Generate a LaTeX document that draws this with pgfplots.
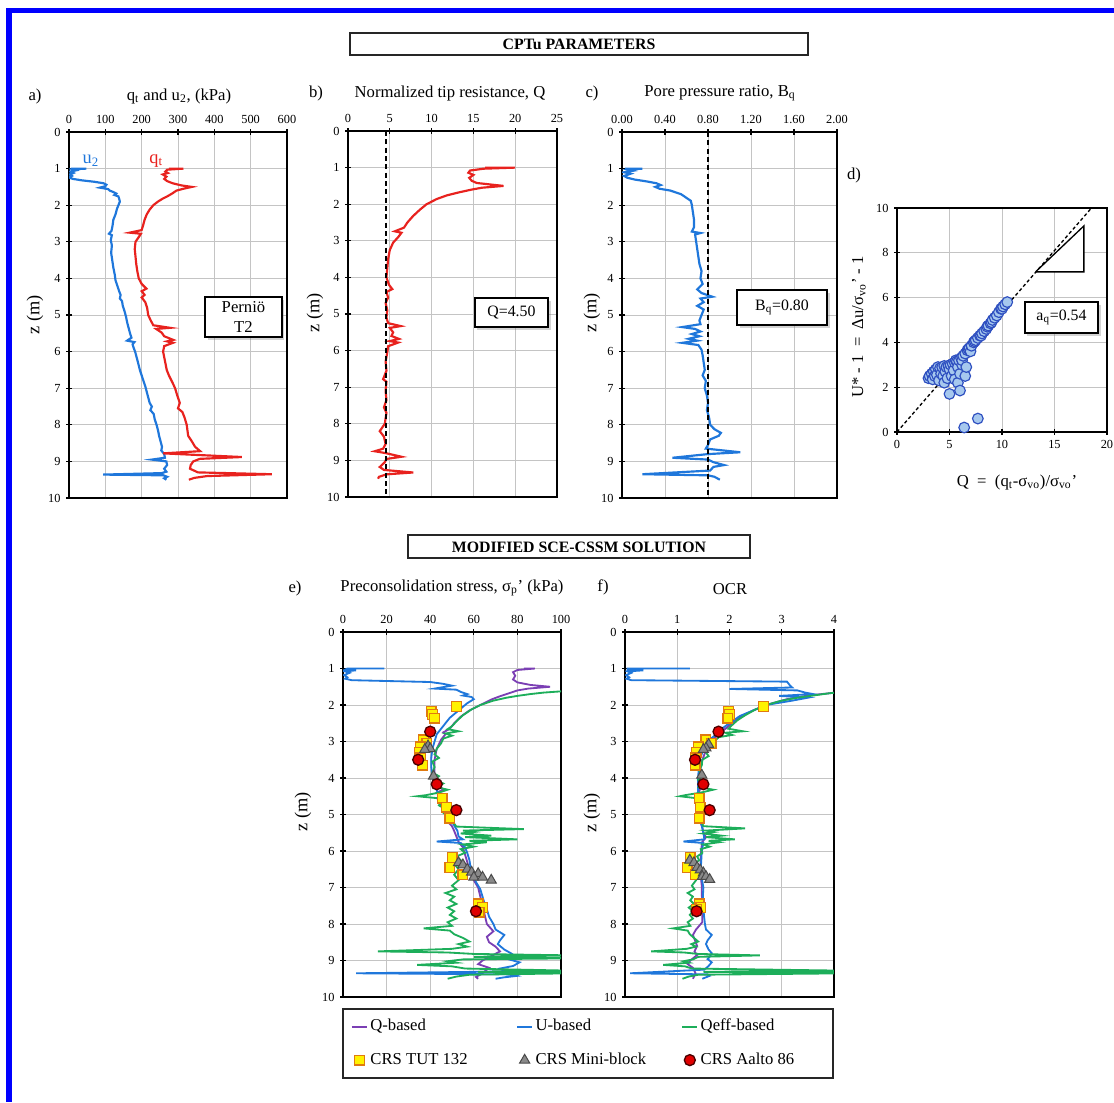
\documentclass[border=0pt]{standalone}
\usepackage{fontspec}
\setmainfont{Liberation Serif}
\usepackage{pgfplots}
\pgfplotsset{compat=1.18}
\usetikzlibrary{shadows}

\definecolor{frameblue}{HTML}{0000FF}
\definecolor{cRed}{HTML}{E8221E}
\definecolor{cBlue}{HTML}{1F77DB}
\definecolor{cPurp}{HTML}{7B3FB4}
\definecolor{cGreen}{HTML}{1DAE5A}
\definecolor{cGrid}{HTML}{C4C4C4}
\definecolor{cYellow}{HTML}{FFF200}
\definecolor{cOrange}{HTML}{E07A10}
\definecolor{cTri}{HTML}{8A8A8A}
\definecolor{cTriEdge}{HTML}{4A4A4A}
\definecolor{cDot}{HTML}{E00000}
\definecolor{cDotEdge}{HTML}{4A0000}
\definecolor{cScatFill}{HTML}{A6C8EE}
\definecolor{cScatEdge}{HTML}{2E4FC0}

\newcommand\tickfont{\fontsize{7.4}{8}\selectfont}
\newcommand\titlefont{\fontsize{10}{12}\selectfont}
\newcommand\zfont{\fontsize{11}{12}\selectfont}

\tikzset{
  box/.style={draw=black, line width=1pt, fill=white,
    drop shadow={shadow xshift=1.5pt, shadow yshift=-1.5pt, opacity=0.35}},
}
\pgfplotsset{
  prof/.style={
    scale only axis, anchor=north west,
    y dir=reverse, ymin=0, ymax=10, ytick={0,1,...,10},
    xtick pos=right, xticklabel pos=right, ytick pos=left,
    tick align=center, major tick length=3.2pt,
    every tick/.style={black, line width=0.8pt},
    grid=major, grid style={cGrid, line width=0.5pt},
    axis line style={black, line width=1pt},
    tick label style={font=\tickfont},
    /pgf/number format/assume math mode=true,
  },
  tut/.style={only marks, mark=square*, mark size=2.9pt,
    mark options={fill=cYellow, draw=cOrange, line width=0.8pt}},
  mini/.style={only marks, mark=triangle*, mark size=3.5pt,
    mark options={fill=cTri, draw=cTriEdge, line width=0.6pt}},
  aalto/.style={only marks, mark=*, mark size=3.3pt,
    mark options={fill=cDot, draw=cDotEdge, line width=0.8pt}},
}

\begin{document}
% one unit = 0.6pt; y runs downward from the top edge
\begin{tikzpicture}[x=0.6pt,y=-0.6pt]
\path[use as bounding box] (0,0) rectangle (1114,1102);
% page frame
\fill[frameblue] (6,8) rectangle (1114,13);
\fill[frameblue] (6,8) rectangle (12,1102);

% section headings
\draw[line width=1.3pt, draw=black!85] (350,33) rectangle (808,55);
\node[font=\bfseries\fontsize{9.5}{11}\selectfont] at (579,44.5) {CPTu PARAMETERS};
\draw[line width=1.3pt, draw=black!85] (408,535) rectangle (750,558);
\node[font=\bfseries\fontsize{9.5}{11}\selectfont] at (579,547) {MODIFIED SCE-CSSM SOLUTION};

% panel letters and titles
\node[font=\titlefont] at (35,96) {a)};
\node[font=\titlefont] at (179,96) {q\textsubscript{t} and u\textsubscript{2}, (kPa)};
\node[font=\titlefont] at (316,93) {b)};
\node[font=\titlefont] at (450,93) {Normalized tip resistance, Q};
\node[font=\titlefont] at (592,93) {c)};
\node[font=\titlefont] at (720,93) {Pore pressure ratio, B\textsubscript{q}};
\node[font=\titlefont] at (854,175) {d)};
\node[font=\titlefont] at (295,588) {e)};
\node[font=\titlefont] at (452,588) {Preconsolidation stress, σ\textsubscript{p}' (kPa)};
\node[font=\titlefont] at (603,587) {f)};
\node[font=\titlefont] at (730,589) {OCR};

% depth labels
\foreach \xx/\yy in {35/315, 315/313, 592/313, 303/812, 592/813}
  \node[font=\zfont, rotate=90] at (\xx,\yy) {z (m)};

% ---------------- a) q_t and u_2 ----------------
\begin{axis}[prof, at={(41.4pt,-79.2pt)}, width=130.8pt, height=219.6pt,
  xmin=0, xmax=600, xtick={0,100,...,600}]
\addplot[cBlue, line width=1.3pt] coordinates {
(5,1.00) (48,1.00) (10,1.02) (18,1.05) (3,1.08) (12,1.12) (2,1.16) (8,1.20)
(0,1.24) (10,1.28) (35,1.32) (70,1.36) (95,1.40) (103,1.44) (100,1.48) (85,1.52)
(108,1.56) (112,1.60) (122,1.64) (130,1.68) (125,1.72) (136,1.76) (138,1.82)
(140,1.90) (136,2.00) (132,2.10) (128,2.25) (122,2.40) (120,2.55) (117,2.70)
(110,2.78) (118,2.82) (115,2.95) (118,3.10) (116,3.30) (119,3.50) (122,3.70)
(126,3.90) (128,4.05) (133,4.20) (138,4.35) (142,4.45) (140,4.55) (146,4.62)
(148,4.75) (153,4.90) (157,5.05) (160,5.20) (164,5.35) (168,5.50) (172,5.62)
(160,5.70) (180,5.74) (175,5.80) (178,5.90) (182,6.00) (186,6.15) (190,6.30)
(195,6.50) (200,6.65) (205,6.80) (210,6.95) (214,7.10) (218,7.25) (222,7.40)
(228,7.50) (224,7.60) (233,7.70) (236,7.85) (241,8.00) (245,8.15) (248,8.30)
(252,8.45) (256,8.60) (254,8.70) (262,8.80) (264,8.90) (228,8.95) (268,9.00)
(270,9.10) (262,9.20) (268,9.28) (255,9.32) (94,9.36) (260,9.38) (270,9.42)
(262,9.46) (268,9.50)};
\addplot[cRed, line width=1.3pt] coordinates {
(275,1.00) (315,1.00) (270,1.03) (265,1.08) (272,1.12) (258,1.16) (268,1.22)
(262,1.28) (270,1.34) (285,1.40) (310,1.46) (338,1.50) (315,1.55) (296,1.60)
(284,1.68) (272,1.75) (258,1.82) (245,1.90) (232,2.00) (222,2.12) (214,2.25)
(208,2.40) (204,2.55) (200,2.68) (167,2.75) (198,2.78) (190,2.90) (183,3.00)
(181,3.20) (183,3.40) (185,3.60) (188,3.80) (192,4.00) (200,4.15) (213,4.28)
(200,4.35) (208,4.45) (200,4.52) (210,4.65) (215,4.80) (218,5.00) (225,5.15)
(232,5.28) (278,5.35) (240,5.38) (255,5.48) (262,5.58) (287,5.68) (270,5.72)
(286,5.76) (262,5.85) (259,6.00) (262,6.15) (265,6.30) (269,6.50) (275,6.65)
(285,6.85) (292,7.00) (298,7.20) (305,7.40) (300,7.55) (312,7.65) (318,7.80)
(324,8.00) (326,8.15) (328,8.30) (338,8.45) (347,8.60) (361,8.72) (259,8.78)
(345,8.82) (476,8.88) (360,8.93) (342,9.00) (335,9.10) (333,9.20) (355,9.30)
(558,9.35) (380,9.40) (345,9.45) (330,9.50)};
\node[font=\fontsize{11}{12}\selectfont, text=cBlue] at (axis cs:60,0.78) {u\textsubscript{2}};
\node[font=\fontsize{11}{12}\selectfont, text=cRed] at (axis cs:240,0.78) {q\textsubscript{t}};
\end{axis}
\node[box, font=\titlefont, align=center, minimum width=46pt, minimum height=24pt,
  inner sep=1pt] at (243.5,317) {Perniö\\T2};

% ---------------- b) Q ----------------
\begin{axis}[prof, at={(208.8pt,-78.6pt)}, width=125.4pt, height=219.6pt,
  xmin=0, xmax=25, xtick={0,5,...,25}]
\addplot[cRed, line width=1.3pt] coordinates {
(16.4,1.00) (20.0,1.00) (16.2,1.03) (14.6,1.08) (14.4,1.14) (15.0,1.20)
(14.5,1.28) (14.8,1.36) (15.4,1.42) (18.6,1.50) (16.0,1.55) (14.8,1.60)
(13.2,1.68) (11.8,1.76) (10.6,1.86) (9.4,2.00) (8.6,2.15) (7.8,2.32)
(7.1,2.50) (6.7,2.64) (5.6,2.74) (6.4,2.78) (6.0,2.90) (5.4,3.05) (5.0,3.25)
(4.8,3.50) (4.7,3.75) (4.6,4.00) (4.9,4.20) (5.3,4.32) (4.6,4.40) (4.8,4.55)
(4.5,4.70) (4.7,4.90) (4.6,5.10) (4.8,5.25) (6.3,5.33) (5.0,5.38) (5.4,5.50)
(5.2,5.60) (6.1,5.68) (5.0,5.74) (6.0,5.78) (4.8,5.88) (4.7,6.05) (4.5,6.30)
(4.6,6.55) (4.2,6.78) (4.6,6.85) (4.5,7.10) (4.6,7.35) (4.3,7.55) (4.6,7.70)
(4.4,8.00) (3.8,8.20) (4.3,8.35) (4.5,8.55) (4.2,8.68) (3.2,8.75) (4.5,8.80)
(6.4,8.90) (4.6,8.96) (4.4,9.05) (3.8,9.18) (4.3,9.26) (7.8,9.33) (4.6,9.38)
(3.7,9.45) (3.6,9.50)};
\addplot[black, line width=1.2pt, dash pattern=on 3pt off 2pt] coordinates {(4.5,0) (4.5,10)};
\end{axis}
\node[box, font=\fontsize{9.5}{11}\selectfont, minimum width=44pt, minimum height=17.4pt,
  inner sep=1pt] at (511.5,312.5) {Q=4.50};

% ---------------- c) B_q ----------------
\begin{axis}[prof, at={(373.2pt,-79.2pt)}, width=129pt, height=219.6pt,
  xmin=0, xmax=2, xtick={0,0.4,0.8,1.2,1.6,2},
  xticklabels={0.00,0.40,0.80,1.20,1.60,2.00}]
\addplot[cBlue, line width=1.3pt] coordinates {
(0.03,1.00) (0.19,1.00) (0.06,1.03) (0.10,1.06) (0.02,1.10) (0.08,1.14)
(0.02,1.20) (0.05,1.25) (0.12,1.30) (0.23,1.35) (0.32,1.40) (0.36,1.45)
(0.31,1.50) (0.35,1.55) (0.45,1.60) (0.50,1.65) (0.55,1.70) (0.58,1.76)
(0.60,1.80) (0.64,1.88) (0.65,2.00) (0.66,2.20) (0.67,2.40) (0.67,2.60)
(0.65,2.72) (0.73,2.76) (0.68,2.80) (0.69,3.00) (0.70,3.20) (0.71,3.40)
(0.72,3.60) (0.74,3.80) (0.73,4.00) (0.75,4.15) (0.70,4.30) (0.74,4.40)
(0.84,4.50) (0.73,4.55) (0.76,4.65) (0.70,4.75) (0.76,4.85) (0.74,5.00)
(0.72,5.15) (0.73,5.25) (0.56,5.33) (0.68,5.38) (0.73,5.45) (0.65,5.52)
(0.72,5.58) (0.62,5.65) (0.70,5.70) (0.56,5.76) (0.71,5.82) (0.74,5.95)
(0.75,6.10) (0.76,6.30) (0.77,6.50) (0.75,6.65) (0.78,6.80) (0.77,7.00)
(0.79,7.20) (0.80,7.40) (0.79,7.60) (0.81,7.80) (0.82,8.00) (0.86,8.12)
(0.92,8.22) (0.90,8.30) (0.82,8.40) (0.80,8.55) (0.78,8.65) (1.10,8.75)
(0.80,8.80) (0.47,8.90) (0.80,8.95) (0.85,9.02) (0.95,9.10) (0.85,9.15)
(0.82,9.25) (0.19,9.35) (0.80,9.38) (0.86,9.42) (0.91,9.50)};
\addplot[black, line width=1.2pt, dash pattern=on 3pt off 2pt] coordinates {(0.8,0) (0.8,10)};
\end{axis}
\node[box, font=\fontsize{9.5}{11}\selectfont, minimum width=54pt, minimum height=21pt,
  inner sep=1pt] at (782,307.5) {B\textsubscript{q}=0.80};

% ---------------- d) U*-1 vs Q ----------------
\begin{axis}[scale only axis, anchor=north west, at={(538.2pt,-124.8pt)},
  width=126pt, height=134.4pt,
  xmin=0, xmax=20, ymin=0, ymax=10,
  xtick={0,5,...,20}, ytick={0,2,...,10},
  xtick pos=left, ytick pos=left,
  tick align=center, major tick length=3.2pt,
  every tick/.style={black, line width=0.8pt},
  grid=major, grid style={cGrid, line width=0.5pt},
  axis line style={black, line width=1pt},
  tick label style={font=\tickfont},
  /pgf/number format/assume math mode=true]
\addplot[only marks, mark=*, mark size=3.2pt,
  mark options={fill=cScatFill, draw=cScatEdge, line width=0.7pt}] coordinates {
(3.0,2.4) (3.1,2.5) (3.3,2.6) (3.4,2.35) (3.5,2.7) (3.6,2.5) (3.7,2.8)
(3.8,2.55) (3.9,2.9) (4.0,2.3) (4.1,2.85) (4.2,2.6) (4.3,2.9) (4.4,2.5)
(4.5,2.95) (4.5,2.2) (4.6,2.7) (4.7,2.9) (4.8,2.4) (4.9,2.95) (5.0,2.8)
(5.0,1.7) (5.1,3.0) (5.2,2.5) (5.3,3.05) (5.4,2.75) (5.5,3.1) (5.5,2.35)
(5.6,3.2) (5.7,3.15) (5.8,2.9) (5.8,2.2) (5.9,3.2) (6.0,2.6) (6.0,1.85)
(6.1,3.3) (6.2,3.0) (6.2,3.2) (6.3,3.4) (6.5,3.5) (6.5,2.5) (6.6,2.9)
(6.7,3.65) (6.8,3.7) (6.9,3.75) (7.0,3.6) (7.1,3.85) (7.3,4.0) (7.4,4.05)
(7.5,4.1) (7.7,4.2) (7.9,4.3) (8.0,4.3) (8.1,4.4) (8.3,4.5) (8.5,4.6)
(8.6,4.7) (8.7,4.75) (8.9,4.85) (9.0,4.9) (9.1,5.0) (9.3,5.1) (9.5,5.2)
(9.7,5.35) (9.9,5.5) (10.0,5.5) (10.1,5.6) (10.3,5.7) (10.5,5.8)
(6.4,0.2) (7.7,0.6)};
\addplot[black, line width=0.8pt, dash pattern=on 2pt off 1.5pt] coordinates {(0,0) (18.52,10)};
\addplot[black, line width=0.8pt, fill=white] coordinates {(13.2,7.15) (17.8,7.15) (17.8,9.2) (13.2,7.15)};
\end{axis}
\node[box, font=\fontsize{9.5}{11}\selectfont, minimum width=44pt, minimum height=18.6pt,
  inner sep=1pt] at (1061.5,317.5) {a\textsubscript{q}=0.54};
\node[font=\titlefont] at (1017,482) {Q\ \ =\ \ (q\textsubscript{t}-σ\textsubscript{vo})/σ\textsubscript{vo}'};
\node[font=\titlefont, rotate=90] at (859,327) {U* - 1\ \ =\ \ Δu/σ\textsubscript{vo}' - 1};

% ---------------- e) preconsolidation stress ----------------
\begin{axis}[prof, at={(205.8pt,-379.2pt)}, width=130.8pt, height=219pt,
  xmin=0, xmax=100, xtick={0,20,...,100},
  legend columns=3,
  legend image code/.code={\draw[mark repeat=2,mark phase=2,#1]
    plot coordinates {(0pt,0pt) (4.5pt,0pt) (9pt,0pt)};},
  legend style={at={(-0.005,-0.030)}, anchor=north west,
    draw=black!85, line width=1pt, fill=white,
    font=\fontsize{10}{12}\selectfont,
    inner xsep=5pt, inner ysep=4.8pt, row sep=8pt,
    nodes={inner sep=1.5pt, text height=7pt, text depth=2pt}},
  legend cell align=left]
\addplot[cPurp, line width=1.1pt] coordinates {
(83,1.00) (88,1.00) (80,1.04) (78,1.10) (79,1.20) (78,1.30) (80,1.38)
(86,1.45) (95,1.50) (85,1.55) (80,1.60) (76,1.68) (72,1.76) (68,1.85)
(63,2.00) (58,2.15) (54,2.32) (51,2.50) (49,2.65) (46,2.75) (47,2.80)
(45,2.95) (43,3.20) (42,3.50) (42,3.80) (42,4.00) (44,4.20) (46,4.32)
(43,4.40) (45,4.55) (45,4.75) (47,5.00) (48,5.20) (50,5.32) (51,5.45)
(52,5.60) (53,5.75) (55,5.90) (56,6.10) (57,6.30) (58,6.55) (60,6.80)
(62,7.00) (63,7.25) (64,7.50) (65,7.75) (66,8.00) (69,8.20) (66,8.35)
(67,8.50) (70,8.62) (72,8.75) (68,8.88) (64,9.00) (62,9.10) (67,9.20)
(64,9.35) (61,9.45) (62,9.50)};
\addlegendentry{\makebox[86pt][l]{Q-based}}
\addplot[cBlue, line width=1.1pt] coordinates {
(19,1.00) (2,1.00) (1,1.03) (6,1.05) (1,1.08) (3,1.12) (0.5,1.18) (2,1.24)
(1,1.28) (4,1.32) (40,1.37) (46,1.42) (50,1.47) (42,1.55) (52,1.58)
(54,1.64) (57,1.70) (55,1.74) (59,1.78) (60,1.84) (57,1.95) (55,2.05)
(52,2.20) (49,2.35) (47,2.50) (45,2.65) (43,2.80) (42,3.00) (41,3.20)
(40.5,3.45) (40.5,3.70) (41,3.95) (42,4.20) (43.5,4.40) (44,4.55)
(45,4.70) (46.5,4.85) (48,5.00) (49.5,5.15) (51,5.30) (52.5,5.45)
(53,5.60) (55,5.68) (43,5.74) (54,5.78) (56,5.90) (57,6.05) (58,6.25)
(58.5,6.45) (60,6.65) (61,6.85) (63,7.05) (64,7.25) (65,7.45) (66,7.60)
(67,7.80) (69,8.00) (70,8.15) (74,8.30) (72,8.45) (71,8.55) (74,8.70)
(77,8.80) (79,8.88) (75,8.95) (81,9.05) (78,9.15) (72,9.22) (75,9.30)
(6,9.35) (78,9.38) (80,9.42) (74,9.46) (70,9.50)};
\addlegendentry{\makebox[86pt][l]{U-based}}
\addplot[cGreen, line width=1.1pt] coordinates {
(106,1.60) (92,1.66) (86,1.70) (80,1.75) (75,1.80) (69,1.88) (63,2.00)
(59,2.12) (55,2.28) (52,2.45) (50,2.58) (48,2.66) (53,2.72) (47,2.78)
(50,2.84) (46,2.92) (45,3.05) (43,3.20) (42,3.35) (44,3.45) (41,3.55)
(42,3.70) (41,3.85) (44,3.95) (42,4.05) (46,4.15) (43,4.25) (48,4.32)
(44,4.40) (38,4.47) (34,4.50) (43,4.55) (45,4.65) (44,4.75) (47,4.85)
(46,4.95) (48,5.05) (49,5.15) (51,5.25) (52,5.33) (83,5.40) (55,5.44)
(60,5.48) (54,5.52) (68,5.58) (56,5.62) (80,5.68) (58,5.72) (66,5.76)
(55,5.82) (60,5.88) (54,5.95) (56,6.05) (52,6.15) (54,6.25) (51,6.35)
(53,6.50) (51,6.65) (53,6.80) (50,6.95) (52,7.05) (47,7.15) (51,7.25)
(49,7.35) (52,7.45) (48,7.55) (51,7.65) (49,7.75) (52,7.85) (48,7.95)
(50,8.05) (37,8.12) (49,8.18) (51,8.28) (55,8.38) (58,8.48) (53,8.55)
(57,8.62) (50,8.68) (16,8.75) (48,8.78) (60,8.82) (106,8.86) (60,8.90)
(106,8.94) (55,8.97) (48,9.02) (52,9.06) (34,9.12) (50,9.16) (56,9.22)
(106,9.28) (62,9.31) (106,9.35) (58,9.39) (52,9.44) (48,9.50)};
\addlegendentry{\makebox[73pt][l]{Qeff-based}}
\addplot[tut] coordinates {
(52,2.04) (40.5,2.17) (41,2.26) (42,2.36) (37,2.95) (38.5,3.05) (35.5,3.15)
(35,3.30) (35.5,3.45) (36.5,3.65) (45.5,4.55) (47.5,4.80) (49,5.10)
(50,6.18) (49,6.45) (55,6.65) (62,7.45) (64,7.55) (62.5,7.68)};
\addlegendentry{\makebox[86pt][l]{CRS TUT 132}}
\addplot[mini] coordinates {
(39,3.12) (40,3.20) (37.5,3.22) (41.5,3.95) (53,6.32) (55,6.38) (57,6.50)
(59,6.58) (62,6.62) (60,6.72) (64,6.72) (68,6.80)};
\addlegendentry{\makebox[86pt][l]{CRS Mini-block}}
\addplot[aalto] coordinates {
(40,2.73) (34.5,3.50) (43,4.17) (52,4.88) (61,7.65)};
\addlegendentry{\makebox[73pt][l]{CRS Aalto 86}}
\end{axis}

% ---------------- f) OCR ----------------
\begin{axis}[prof, at={(375pt,-379.2pt)}, width=125.4pt, height=219pt,
  xmin=0, xmax=4, xtick={0,1,...,4}]
\addplot[cPurp, line width=1.1pt] coordinates {
(4.5,1.58) (3.9,1.68) (3.5,1.74) (3.1,1.84) (2.75,1.98) (2.45,2.15)
(2.22,2.32) (2.05,2.50) (1.92,2.65) (1.80,2.80) (1.68,2.95) (1.58,3.15)
(1.52,3.35) (1.47,3.55) (1.43,3.80) (1.42,4.05) (1.45,4.25) (1.40,4.45)
(1.41,4.70) (1.42,4.95) (1.44,5.20) (1.48,5.35) (1.50,5.50) (1.55,5.62)
(1.48,5.75) (1.46,5.95) (1.45,6.20) (1.44,6.45) (1.45,6.70) (1.47,6.95)
(1.47,7.20) (1.48,7.45) (1.48,7.70) (1.48,7.95) (1.36,8.15) (1.30,8.30)
(1.34,8.45) (1.38,8.60) (1.33,8.75) (1.38,8.85) (1.25,9.00) (1.20,9.10)
(1.30,9.20) (1.35,9.35) (1.30,9.50)};
\addplot[cBlue, line width=1.1pt] coordinates {
(1.24,1.00) (0.05,1.00) (0.05,1.03) (0.35,1.05) (0.05,1.08) (0.12,1.12)
(0.02,1.18) (0.08,1.24) (0.03,1.28) (0.12,1.32) (3.10,1.36) (3.15,1.45)
(3.20,1.52) (2.00,1.56) (3.30,1.60) (3.45,1.66) (3.60,1.70) (2.95,1.75)
(3.50,1.80) (3.20,1.88) (2.70,2.00) (2.45,2.15) (2.20,2.30) (2.00,2.50)
(1.85,2.65) (1.75,2.80) (1.62,2.95) (1.55,3.10) (1.48,3.30) (1.43,3.50)
(1.41,3.75) (1.40,4.00) (1.40,4.25) (1.40,4.50) (1.41,4.75) (1.43,5.00)
(1.46,5.25) (1.50,5.50) (1.52,5.68) (1.12,5.74) (1.50,5.78) (1.47,6.00)
(1.46,6.25) (1.45,6.50) (1.47,6.75) (1.50,7.00) (1.49,7.25) (1.50,7.50)
(1.51,7.75) (1.53,8.00) (1.55,8.15) (1.66,8.30) (1.58,8.45) (1.55,8.55)
(1.60,8.70) (1.66,8.80) (1.62,8.90) (1.58,8.96) (1.66,9.05) (1.60,9.15)
(1.52,9.25) (0.10,9.35) (1.58,9.38) (1.62,9.42) (1.55,9.46) (1.48,9.50)};
\addplot[cGreen, line width=1.1pt] coordinates {
(4.3,1.62) (3.9,1.68) (3.6,1.74) (3.3,1.80) (3.0,1.88) (2.70,2.00)
(2.50,2.12) (2.30,2.28) (2.15,2.42) (2.05,2.55) (1.98,2.65) (2.26,2.72)
(1.92,2.76) (2.05,2.82) (1.80,2.88) (1.70,3.00) (1.62,3.15) (1.55,3.30)
(1.60,3.40) (1.48,3.50) (1.47,3.65) (1.42,3.80) (1.50,3.92) (1.40,4.05)
(1.52,4.15) (1.42,4.25) (1.69,4.32) (1.45,4.40) (1.15,4.47) (1.05,4.50)
(1.35,4.55) (1.40,4.65) (1.36,4.75) (1.44,4.85) (1.38,4.95) (1.42,5.05)
(1.43,5.15) (1.48,5.25) (1.50,5.32) (2.30,5.38) (1.55,5.44) (1.70,5.48)
(1.50,5.52) (1.85,5.58) (1.55,5.62) (2.10,5.68) (1.60,5.72) (1.80,5.76)
(1.50,5.82) (1.62,5.88) (1.45,5.95) (1.48,6.05) (1.38,6.15) (1.42,6.25)
(1.34,6.35) (1.38,6.50) (1.32,6.65) (1.36,6.80) (1.28,6.95) (1.33,7.05)
(1.20,7.15) (1.30,7.25) (1.25,7.35) (1.32,7.45) (1.22,7.55) (1.30,7.65)
(1.24,7.75) (1.30,7.85) (1.20,7.95) (1.25,8.05) (0.92,8.12) (1.20,8.18)
(1.24,8.28) (1.32,8.38) (1.40,8.48) (1.27,8.55) (1.36,8.62) (1.18,8.68)
(0.50,8.75) (1.13,8.78) (1.40,8.82) (2.58,8.86) (1.40,8.90) (1.30,8.97)
(1.12,9.02) (1.22,9.06) (0.73,9.12) (1.15,9.16) (1.28,9.22) (4.3,9.28)
(1.50,9.31) (4.3,9.35) (1.40,9.39) (1.22,9.44) (1.10,9.50)};
\addplot[tut] coordinates {
(2.65,2.04) (1.98,2.17) (2.0,2.26) (1.97,2.36) (1.55,2.95) (1.65,3.05)
(1.40,3.15) (1.36,3.30) (1.35,3.45) (1.34,3.65) (1.42,4.55) (1.44,4.80)
(1.42,5.10) (1.25,6.18) (1.19,6.45) (1.34,6.65) (1.42,7.45) (1.45,7.55)
(1.37,7.60)};
\addplot[mini] coordinates {
(1.60,3.08) (1.55,3.18) (1.50,3.22) (1.47,3.92) (1.24,6.25) (1.32,6.32)
(1.38,6.45) (1.44,6.52) (1.50,6.60) (1.48,6.70) (1.55,6.70) (1.62,6.78)};
\addplot[aalto] coordinates {
(1.79,2.73) (1.34,3.50) (1.50,4.17) (1.62,4.88) (1.37,7.65)};
\end{axis}
\end{tikzpicture}
\end{document}
